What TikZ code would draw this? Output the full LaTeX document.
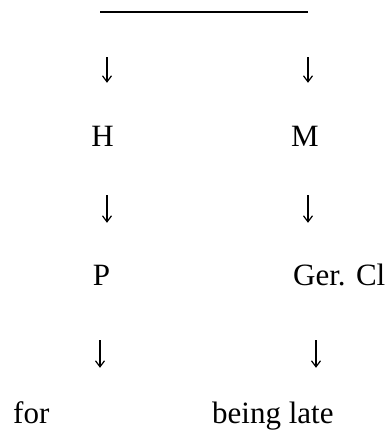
\documentclass[tikz,border=0pt]{standalone}
\usepackage{fontspec}
\setmainfont{Liberation Serif}
\usetikzlibrary{arrows.meta}

\tikzset{
  word/.style={inner sep=0pt, text height=20pt, text depth=0pt, font=\fontsize{31}{37}\selectfont},
  link/.style={-{Straight Barb[length=6pt,width=9pt,line width=1.2pt]}, line width=1.1pt},
}

\begin{document}
\begin{tikzpicture}[x=1pt,y=-1pt]
    \useasboundingbox (0,0) rectangle (391,432);

    % Top bar
    \coordinate (barL) at (100,12);
    \coordinate (barR) at (308,12);
    \draw[line width=1.2pt] (barL) -- (barR);

    % Arrow columns
    \coordinate (colH) at (107,0);
    \coordinate (colM) at (308,0);
    \coordinate (colP) at (100,0);
    \coordinate (colG) at (316,0);

    % Labels
    \node[word, anchor=base] (head) at (102.5,146) {H};
    \node[word, anchor=base] (mod) at (305,146) {M};
    \node[word, anchor=base] (prep) at (101.5,285) {P};
    \node[word, anchor=base west] (gercl) at (293,285) {Ger. Cl};
    \node[word, anchor=base west] (forw) at (13,423) {for};
    \node[word, anchor=base west] (late) at (212,423) {being late};

    % Left branch
    \draw[link, shorten <=45pt, shorten >=43pt] (colH |- barL) -- (colH |- head.north);
    \draw[link, shorten <=49pt, shorten >=42pt] (colH |- head.south) -- (colH |- prep.north);
    \draw[link, shorten <=55pt, shorten >=35pt] (colP |- prep.south) -- (colP |- forw.north);

    % Right branch
    \draw[link, shorten <=45pt, shorten >=43pt] (colM |- barR) -- (colM |- mod.north);
    \draw[link, shorten <=49pt, shorten >=42pt] (colM |- mod.south) -- (colM |- gercl.north);
    \draw[link, shorten <=55pt, shorten >=35pt] (colG |- gercl.south) -- (colG |- late.north);

\end{tikzpicture}
\end{document}
